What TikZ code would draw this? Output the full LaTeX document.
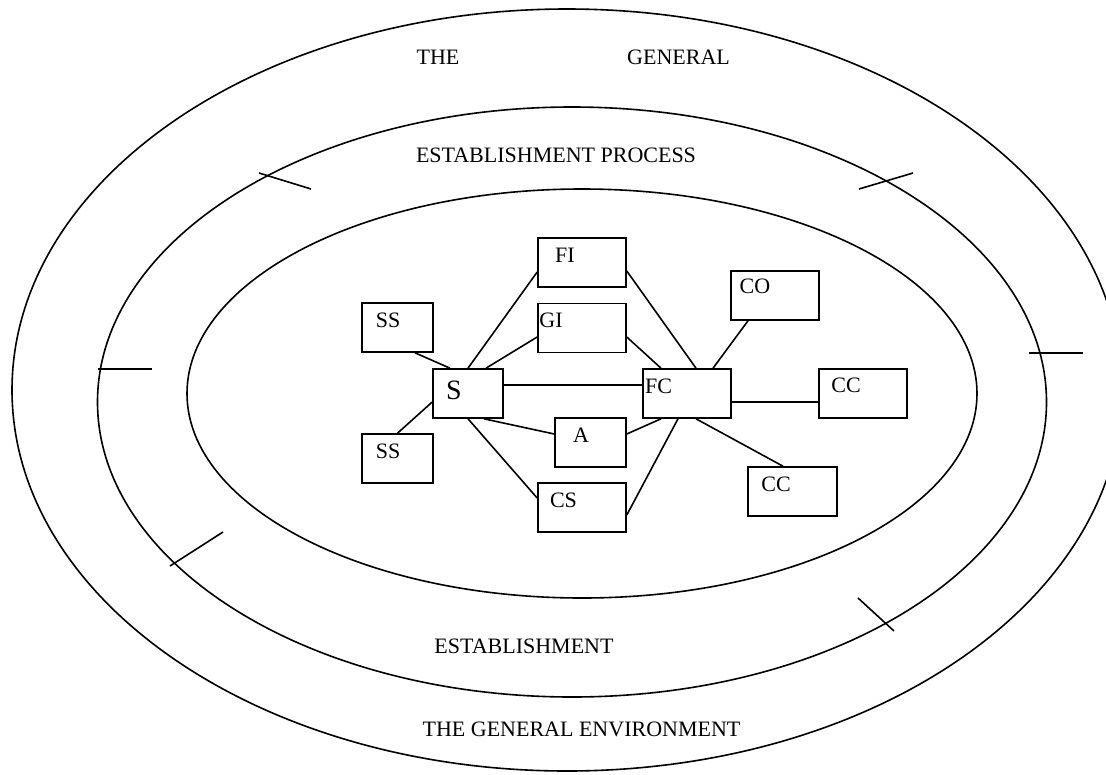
\documentclass[tikz,border=0pt]{standalone}
\usepackage{fontspec}
\setmainfont{Liberation Serif}
\begin{document}
\begin{tikzpicture}[x=1pt,y=-1pt,line width=1.6pt,
  box/.style={draw,rectangle,minimum width=88pt,minimum height=49pt,inner sep=0pt},
  sbox/.style={box,minimum width=71pt},
  lbl/.style={inner sep=0pt,font=\fontsize{22}{24}\selectfont},
  ring/.style={inner sep=0pt,font=\fontsize{22}{24}\selectfont},
  tick/.style={line width=1.6pt}]
\useasboundingbox (0,0) rectangle (1106,774);
\clip (0,0) rectangle (1106,774);
% rings
\draw (567,390) ellipse [x radius=555pt, y radius=381pt];
\draw (572,402) ellipse [x radius=474.5pt, y radius=295pt];
\draw (582,393.5) ellipse [x radius=395pt, y radius=204.5pt];
% ticks
\draw[tick] (98,369) -- (152,369);
\draw[tick] (1029,353) -- (1083,353);
\draw[tick] (259,173) -- (311,189);
\draw[tick] (859,189) -- (913,173);
\draw[tick] (223,532) -- (170,566);
\draw[tick] (858,598) -- (894,631);
% ring texts
\node[ring] (t1) at (438,57.5) {THE};
\node[ring] (t2) at (678.5,57.5) {GENERAL};
\node[ring] (t3) at (556,155.5) {ESTABLISHMENT PROCESS};
\node[ring] (t4) at (524,646.5) {ESTABLISHMENT};
\node[ring] (t5) at (581.5,729.5) {THE GENERAL ENVIRONMENT};
% boxes
\node[box] (FI) at (582,262.5) {};
\node[box] (GI) at (582,328) {};
\node[sbox] (SS1) at (397.5,327.5) {};
\node[sbox,minimum width=70pt] (S) at (468,393.5) {};
\node[box] (FC) at (687,393.5) {};
\node[sbox] (A) at (590.5,442.5) {};
\node[sbox] (SS2) at (397.5,458.5) {};
\node[box] (CS) at (582,507.5) {};
\node[box] (CO) at (775,295.5) {};
\node[box] (CC1) at (863,393.5) {};
\node[box,minimum width=89pt] (CC2) at (792.5,491.5) {};
% labels
\node[lbl] (lFI) at (565,255) {FI};
\node[lbl] (lGI) at (551,320) {GI};
\node[lbl] (lSS1) at (388,320) {SS};
\node[lbl,font=\fontsize{28}{30}\selectfont] (lS) at (454,390.5) {S};
\node[lbl] (lFC) at (658.5,386) {FC};
\node[lbl] (lA) at (581,435.5) {A};
\node[lbl] (lSS2) at (388,451) {SS};
\node[lbl] (lCS) at (563.5,500.5) {CS};
\node[lbl] (lCO) at (755,286.5) {CO};
\node[lbl] (lCC1) at (846,385.5) {CC};
\node[lbl] (lCC2) at (776,484.5) {CC};
% connectors
\draw ([xshift=17.5pt]SS1.south) -- ([xshift=-18pt]S.north);
\draw (SS2.north) -- ([yshift=-8.5pt]S.west);
\draw (S.north) -- ([yshift=-9.5pt]FI.west);
\draw ([xshift=18pt]S.north) -- ([yshift=-9pt]GI.west);
\draw ([yshift=8.5pt]S.east) -- ([yshift=8.5pt]FC.west);
\draw ([xshift=16pt]S.south) -- ([yshift=8.5pt]A.west);
\draw (S.south) -- ([yshift=9.5pt]CS.west);
\draw ([yshift=-8.5pt]FI.east) -- ([xshift=9pt]FC.north);
\draw ([yshift=-9pt]GI.east) -- ([xshift=-26pt]FC.north);
\draw ([yshift=8.5pt]A.east) -- ([xshift=-26pt]FC.south);
\draw ([yshift=-7.5pt]CS.east) -- ([xshift=-9pt]FC.south);
\draw ([xshift=-27pt]CO.south) -- ([xshift=26pt]FC.north);
\draw ([yshift=-8.5pt]FC.east) -- ([yshift=-8.5pt]CC1.west);
\draw ([xshift=9pt]FC.south) -- ([xshift=-9.5pt]CC2.north);
\end{tikzpicture}
\end{document}
